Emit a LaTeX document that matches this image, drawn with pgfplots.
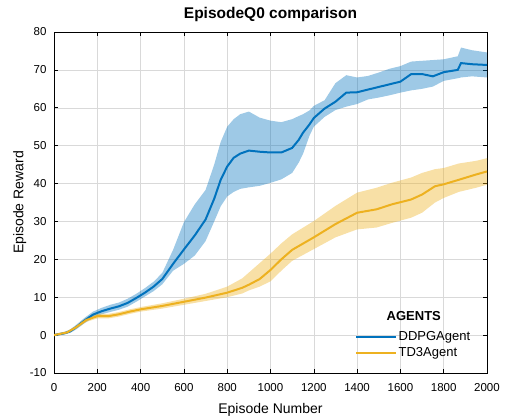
\documentclass[border=0pt]{standalone}
\usepackage{fontspec}
\setmainfont{Liberation Sans}
\usepackage{pgfplots}
\pgfplotsset{compat=1.18}
\usepgfplotslibrary{fillbetween}
\usepackage{pgfplotstable}
\definecolor{mblue}{rgb}{0,0.447,0.741}
\definecolor{morange}{rgb}{0.929,0.694,0.125}

\pgfplotstableread{
x mean lo hi
0 0 -0.3 0.3
50 0.5 0.2 0.9
75 1.0 0.6 1.5
100 2.0 1.4 2.6
140 3.8 3.1 4.5
180 5.4 4.6 6.2
220 6.3 5.5 7.2
260 7.0 6.1 8.0
300 7.6 6.7 8.6
340 8.5 7.5 9.6
380 9.8 8.8 10.9
420 11.2 10.2 12.4
460 12.8 11.6 14.1
500 14.8 13.4 16.4
550 18.8 17.0 22.5
600 22.6 18.8 29.8
650 26.3 21.0 34.5
700 30.5 24.8 38.3
740 36.0 30.0 45.0
770 41.0 34.0 51.0
800 44.5 36.6 55.0
830 46.8 37.8 57.0
860 47.9 38.6 58.3
900 48.7 39.0 59.0
950 48.4 39.4 57.4
1000 48.2 40.2 56.6
1050 48.2 41.1 56.2
1100 49.4 42.8 57.0
1130 51.5 45.5 57.8
1150 53.4 47.8 58.3
1180 55.6 52.6 59.3
1200 57.3 55.0 60.5
1250 59.8 57.6 62.0
1300 61.6 59.4 66.5
1350 64.0 60.3 68.6
1400 64.1 61.0 68.0
1450 64.8 62.2 68.4
1500 65.5 62.7 69.3
1550 66.2 63.3 70.3
1600 66.9 64.0 71.0
1650 68.9 64.6 72.2
1700 68.9 65.0 72.4
1750 68.3 65.6 72.6
1800 69.4 67.1 72.8
1865 70.0 67.8 73.6
1880 71.8 68.0 75.9
1930 71.5 68.3 75.2
2000 71.3 68.0 74.6
}\ddpg

\pgfplotstableread{
x mean lo hi
0 0 -0.3 0.3
60 0.7 0.4 1.0
100 2.0 1.6 2.4
150 4.0 3.5 4.6
200 5.0 4.4 5.7
250 5.0 4.4 5.6
300 5.5 4.9 6.1
350 6.2 5.6 6.8
400 6.8 6.2 7.4
500 7.7 7.0 8.4
600 8.8 8.0 9.6
700 9.9 9.0 10.9
800 11.2 10.0 12.8
870 12.5 11.0 15.0
900 13.3 11.8 16.5
950 14.8 12.8 19.0
1000 17.2 14.2 21.5
1050 20.0 17.0 24.2
1100 22.5 19.6 26.6
1200 25.8 22.7 30.1
1300 29.3 25.8 34.1
1400 32.3 27.9 37.6
1490 33.2 28.4 38.9
1560 34.5 29.6 40.2
1650 35.8 31.0 41.6
1700 37.1 32.3 42.8
1760 39.3 35.0 43.8
1800 39.8 36.2 44.1
1870 41.0 37.8 45.3
1950 42.4 38.9 46.0
2000 43.2 39.7 46.7
}\tdt

\begin{document}
\begin{tikzpicture}
\begin{axis}[
  at={(54pt,45pt)}, anchor=south west, scale only axis,
  width=433pt, height=341pt,
  xmin=0, xmax=2000, ymin=-10, ymax=80,
  xtick={0,200,...,2000}, ytick={-10,0,...,80},
  grid=major, major grid style={black!15, line width=0.5pt},
  tick align=inside, major tick length=4pt,
  axis line style={line width=0.6pt},
  tick style={line width=0.6pt, black},
  ticklabel style={font=\fontsize{11.5}{12}\selectfont},
  xticklabel style={anchor=base, yshift=-18.7pt},
  yticklabel style={anchor=east, inner sep=0pt, xshift=-7.3pt},
  /pgf/number format/assume math mode=true,
  /pgf/number format/1000 sep={},
  title={EpisodeQ0 comparison},
  title style={font=\bfseries\fontsize{15.5}{16}\selectfont, at={(axis description cs:0.5,1)}, anchor=base, yshift=7.7pt},
  xlabel={Episode Number},
  ylabel={Episode Reward},
  label style={font=\fontsize{14}{15}\selectfont},
  xlabel style={at={(axis description cs:0.5,0)}, anchor=base, yshift=-41pt},
  ylabel style={at={(axis description cs:0,0.5)}, anchor=base, yshift=30.5pt},
  legend image code/.code={\draw[#1, line width=2.2pt] (0pt,0pt) -- (40pt,0pt);},
  legend cell align=left,
  legend style={at={(axis description cs:0.695,0.126)}, anchor=north west,
    draw=none, fill=none, font=\fontsize{13}{14}\selectfont, inner sep=0pt,
    row sep=3pt, nodes={inner sep=1.3pt}},
]
\addplot[draw=none, name path=dlo, forget plot] table[x=x, y=lo] {\ddpg};
\addplot[draw=none, name path=dhi, forget plot] table[x=x, y=hi] {\ddpg};
\addplot[mblue, fill opacity=0.38, draw=none, forget plot] fill between[of=dlo and dhi];
\addplot[mblue, line width=2pt] table[x=x, y=mean] {\ddpg};
\addlegendentry{DDPGAgent}
\addplot[draw=none, name path=tlo, forget plot] table[x=x, y=lo] {\tdt};
\addplot[draw=none, name path=thi, forget plot] table[x=x, y=hi] {\tdt};
\addplot[morange, fill opacity=0.4, draw=none, forget plot] fill between[of=tlo and thi];
\addplot[morange, line width=2pt] table[x=x, y=mean] {\tdt};
\addlegendentry{TD3Agent}
\node[font=\bfseries\fontsize{13}{14}\selectfont] at (rel axis cs:0.831,0.167) {AGENTS};
\end{axis}
\pgfresetboundingbox
\path[use as bounding box] (0pt,0pt) rectangle (512pt,418pt);
\end{tikzpicture}
\end{document}
